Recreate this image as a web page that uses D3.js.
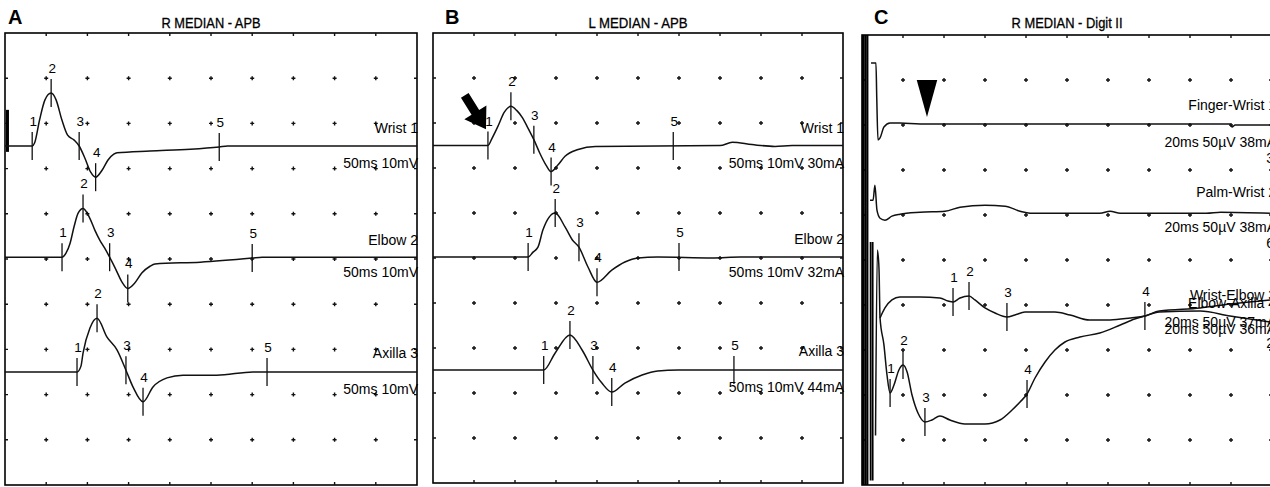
<!DOCTYPE html>
<html>
<head>
<meta charset="utf-8">
<title>Median nerve conduction</title>
<script src="https://d3js.org/d3.v7.min.js"></script>
<style>
body {margin:0; background:#fff;}
text {font-family: "Liberation Sans", Arial, sans-serif; fill:#000;}
.trace {fill:none; stroke:#111; stroke-width:1.5; stroke-linejoin:round;}
.mark {stroke:#111; stroke-width:1.3;}
.dot {stroke:#111; stroke-width:1.4; fill:none;}
.frame {fill:none; stroke:#000; stroke-width:1.6;}
</style>
</head>
<body>
<svg width="1270" height="487"></svg>
<script>
// ---- text ----
var letters = ["A", "B", "C"];
var titles = ["R MEDIAN - APB", "L MEDIAN - APB", "R MEDIAN - Digit II"];
var sweeps = [50, 50, 20];          // ms per sweep (10 div)
var sens = [10, 10, 50];            // mV or µV per div

// ---- panel A (ms, mV) ----
var aBase = [2.5, 4.96, 7.5];
var aNames = ["Wrist 1", "Elbow 2", "Axilla 3"];
var aSettings = ["50ms 10mV", "50ms 10mV", "50ms 10mV"];
var aWrist = [[0,0],[3.3,0],[3.6,0.7],[4.2,5.8],[4.85,10.2],[5.6,11.7],[6.2,10.2],[6.9,5.8],[7.6,2.4],[8.4,1.3],[9.0,0],[9.7,-2.7],[10.4,-5.8],[11.0,-6.9],[11.8,-5.3],[12.5,-3.1],[13.2,-1.8],[13.6,-1.5],[17.6,-1.1],[22.5,-0.7],[26,-0.2],[27,0],[50,0]];
var aWristMarks = [[3.3,0],[5.6,11.7],[9.0,0],[11.0,-6.9],[26,-0.2]];
var aElbow = [[0,0],[6.92,0],[7.4,0.9],[7.9,3.1],[8.4,6.9],[8.86,9.7],[9.47,10.8],[10.3,8.6],[10.9,6.0],[11.5,3.8],[12.1,2.0],[12.7,0],[13.5,-2.9],[14.2,-5.5],[14.9,-6.9],[15.7,-5.8],[16.6,-3.5],[17.6,-2.0],[18.2,-1.5],[23.7,-1.1],[30,-0.2],[31.2,0],[50,0]];
var aElbowMarks = [[6.92,0],[9.47,10.8],[12.7,0],[14.9,-6.9],[30,-0.2]];
var aAxilla = [[0,0],[8.74,0],[9.22,1.3],[9.47,4.2],[10.3,9.7],[11.17,11.9],[12.38,7.7],[13.59,4.9],[14.68,0.4],[15.53,-3.3],[16.75,-6.6],[17.96,-3.3],[19.66,-1.3],[21.6,-0.7],[25.7,-0.7],[30.1,0],[31.8,0],[50,0]];
var aAxillaMarks = [[8.74,0],[11.17,11.9],[14.68,0.4],[16.75,-6.6],[31.8,0]];
var aStim = [0.3, 8, -1.3];

// ---- panel B (ms, mV) ----
var bBase = [2.5, 4.98, 7.49];
var bNames = ["Wrist 1", "Elbow 2", "Axilla 3"];
var bSettings = ["50ms 10mV 30mA", "50ms 10mV 32mA", "50ms 10mV 44mA"];
var bWrist = [[0,0],[6.7,0],[7.2,1.6],[7.9,4.2],[8.7,7.4],[9.5,8.7],[10.2,7.8],[10.9,6.2],[11.6,3.8],[12.3,1.3],[13.0,-1.6],[13.8,-4.4],[14.4,-5.8],[15.2,-4.4],[16.1,-2.4],[17.7,-0.9],[19.8,-0.2],[35,0],[36.5,0.7],[38.9,0.2],[41.7,-0.2],[43.8,0],[50,0]];
var bWristMarks = [[6.7,0],[9.5,8.7],[12.3,1.3],[14.4,-5.8],[29.3,-0.1]];
var bElbow = [[0,0],[11.6,0],[12.2,1.1],[12.8,2.2],[13.4,6.0],[14.9,9.8],[16.1,6.7],[17.0,3.8],[17.8,2.2],[18.9,-2.2],[20.0,-5.6],[21.8,-2.9],[23.4,-1.1],[25.0,-0.2],[27.4,0],[34,-0.2],[37.5,0],[50,0]];
var bElbowMarks = [[11.6,0],[14.9,9.8],[17.8,2.2],[20.0,-5.6],[30,0]];
var bAxilla = [[0,0],[13.5,0],[14.9,3.8],[16.7,7.8],[18.2,4.4],[19.5,0],[20.6,-2.9],[21.8,-4.9],[23.4,-2.9],[25.5,-1.1],[27.4,-0.2],[29.9,0],[50,0]];
var bAxillaMarks = [[13.5,0],[16.7,7.8],[19.5,0],[21.8,-4.9],[36.7,0]];
var bArrow = [6.46, 3.6];            // tip: ms, mV above wrist baseline

// ---- panel C (ms, µV) ----
var cBase = [2, 3.96, 6, 6];
var cNames = ["Finger-Wrist 1", "Palm-Wrist 2", "Wrist-Elbow 3", "Elbow-Axilla 4"];
var cSettings = ["20ms 50\u00b5V 38mA", "20ms 50\u00b5V 38mA", "20ms 50\u00b5V 37mA", "20ms 50\u00b5V 36mA"];
var cExtra = ["3", "6", "2"];
var cFinger = [[0.44,68.9],[0.68,68.9],[0.72,30],[0.78,-16.7],[0.88,-14.4],[1.07,-2.2],[1.37,2.2],[1.85,2.2],[2.83,1.1],[6.73,1.1],[17.95,1.1],[18.05,-2.2],[18.2,0],[19.9,0]];
var cPalm = [[0.39,14.4],[0.54,14.4],[0.63,31.1],[0.73,3.3],[0.88,-5.6],[1.12,-7.8],[1.46,-3.3],[1.85,-1.1],[2.83,1.1],[4.05,2.2],[4.78,6.7],[6.0,8.9],[6.98,7.8],[7.71,2.2],[8.2,0],[11.6,0],[12.1,2.2],[12.6,0],[16.8,0],[17.5,1.1],[19.9,0]];
var cWristElbow = [[0.88,-14.4],[1.12,-3.3],[1.46,5.6],[1.85,8.9],[2.83,8.9],[3.8,7.8],[4.2,4.4],[4.44,3.3],[4.78,7.8],[5.22,10],[5.51,5.6],[6.0,-3.3],[6.49,-8.9],[7.07,-13.3],[7.46,-11.1],[7.95,-7.8],[9.41,-7.8],[10.15,-11.1],[11.1,-16.7],[12.1,-16.7],[13.1,-14.4],[13.8,-12.2],[14.5,-6.7],[16.5,-3.3],[17.95,1.1],[19.9,5.6]];
var cWristElbowMarks = [[4.44,3.3],[5.22,10],[7.07,-13.3],[13.8,-12.2]];
var cElbowAxilla = [[0.66,-145],[0.75,61],[0.83,40],[0.88,-14.4],[1.07,-44.4],[1.22,-77.8],[1.37,-97.8],[1.56,-88.9],[1.8,-72.2],[2.0,-66.7],[2.2,-74.4],[2.44,-100],[2.73,-120],[3.07,-130],[3.41,-127.8],[3.8,-123.3],[4.29,-127.8],[5.02,-132.2],[6.0,-132.2],[6.73,-127.8],[7.32,-116.7],[7.71,-107.8],[8.05,-98.9],[8.44,-81.1],[8.93,-63.3],[9.41,-50],[9.9,-41.1],[10.63,-35.6],[11.6,-31.1],[12.6,-22.2],[13.3,-15.6],[13.8,-12.2],[14.5,-7.8],[16.5,-6.7],[17.95,-12.2],[19.9,-18.9]];
var cElbowAxillaMarks = [[1.37,-97.8],[2.0,-66.7],[3.07,-130],[8.05,-98.9]];
var cArtifactFull = [0.05, 0.16, 0.26];
var cArtifactLow = [0.42, 0.52];
var cHead = [3.17, 50, 9, 0.5];      // ms, top µV, tip µV, half width ms

var svg = d3.select("svg");

var boxes = [
  {x0: 5, x1: 417, y0: 33, y1: 485, tw: 99},
  {x0: 433, x1: 843, y0: 33, y1: 483, tw: 99},
  {x0: 862, x1: 1272, y0: 35, y1: 485, tw: 111}
];

function makePanel(i) {
  var b = boxes[i];
  var x = d3.scaleLinear().domain([0, sweeps[i]]).range([b.x0, b.x1]);
  var y = d3.scaleLinear().domain([0, 10 * sens[i]]).range([b.y0, b.y1]);
  var g = svg.append("g");

  g.append("text").attr("x", b.x0 + (i == 0 ? 3 : 12)).attr("y", 24)
    .style("font-size", "20px").style("font-weight", "bold").text(letters[i]);
  g.append("text").attr("x", (b.x0 + b.x1) / 2).attr("y", 28)
    .attr("text-anchor", "middle").style("font-size", "14.5px")
    .attr("textLength", b.tw).attr("lengthAdjust", "spacingAndGlyphs")
    .style("stroke", "#000").style("stroke-width", 0.3)
    .text(titles[i]);

  g.append("rect").attr("class", "frame")
    .attr("x", b.x0).attr("y", b.y0).attr("width", b.x1 - b.x0).attr("height", b.y1 - b.y0);

  var cols = d3.range(1, 10).map(function(k) { return k * sweeps[i] / 10; });
  var rows = d3.range(1, 10).map(function(k) { return k * sens[i]; });
  var p = "";
  cols.forEach(function(c) {
    rows.forEach(function(r) {
      var cx = x(c), cy = y(r);
      p += "M" + (cx - 2) + "," + cy + "h4M" + cx + "," + (cy - 2) + "v4";
    });
    p += "M" + x(c) + "," + b.y0 + "v3M" + x(c) + "," + b.y1 + "v-3";
  });
  rows.forEach(function(r) {
    p += "M" + b.x0 + "," + y(r) + "h3M" + b.x1 + "," + y(r) + "h-3";
  });
  g.append("path").attr("class", "dot").attr("d", p);

  return {g: g, x: x, y: y};
}

function drawTrace(P, s, base, pts, marks) {
  var b0 = base * s;
  var line = d3.line()
    .x(function(d) { return P.x(d[0]); })
    .y(function(d) { return P.y(b0 - d[1]); })
    .curve(d3.curveMonotoneX);
  P.g.append("path").attr("class", "trace").attr("d", line(pts));
  if (!marks) return;
  P.g.selectAll(null).data(marks).enter().append("line").attr("class", "mark")
    .attr("x1", function(d) { return P.x(d[0]); })
    .attr("x2", function(d) { return P.x(d[0]); })
    .attr("y1", function(d) { return P.y(b0 - d[1]) - 14; })
    .attr("y2", function(d) { return P.y(b0 - d[1]) + 14; });
  P.g.selectAll(null).data(marks).enter().append("text")
    .attr("x", function(d) { return P.x(d[0]) + 1; })
    .attr("y", function(d) { return P.y(b0 - d[1]) - 20; })
    .attr("text-anchor", "middle").style("font-size", "13.5px")
    .text(function(d, k) { return k + 1; });
}

function drawLabels(P, s, bases, names, settings, xEnd, dyName, dySet) {
  names.forEach(function(n, k) {
    var yb = P.y(bases[k] * s);
    P.g.append("text").attr("x", xEnd).attr("y", yb + dyName[k])
      .attr("text-anchor", "end").style("font-size", "14px").text(n);
    P.g.append("text").attr("x", xEnd).attr("y", yb + dySet[k])
      .attr("text-anchor", "end").style("font-size", "14px").text(settings[k]);
  });
}

// ---- A ----
var A = makePanel(0);
A.g.append("line").attr("stroke", "#000").attr("stroke-width", 3)
  .attr("x1", A.x(aStim[0])).attr("x2", A.x(aStim[0]))
  .attr("y1", A.y(aBase[0] * 10 - aStim[1])).attr("y2", A.y(aBase[0] * 10 - aStim[2]));
drawTrace(A, 10, aBase[0], aWrist, aWristMarks);
drawTrace(A, 10, aBase[1], aElbow, aElbowMarks);
drawTrace(A, 10, aBase[2], aAxilla, aAxillaMarks);
drawLabels(A, 10, aBase, aNames, aSettings, 418, [-13, -12, -14], [22, 20, 22]);

// ---- B ----
var B = makePanel(1);
drawTrace(B, 10, bBase[0], bWrist, bWristMarks);
drawTrace(B, 10, bBase[1], bElbow, bElbowMarks);
drawTrace(B, 10, bBase[2], bAxilla, bAxillaMarks);
drawLabels(B, 10, bBase, bNames, bSettings, 844, [-13, -13, -14], [22, 20, 22]);
(function() {
  var tx = B.x(bArrow[0]), ty = B.y(bBase[0] * 10 - bArrow[1]);
  var ang = 58 * Math.PI / 180, L = 40, hl = 20, hw = 13, sw = 4.5;
  var ux = Math.cos(ang), uy = Math.sin(ang), nx = -uy, ny = ux;
  var bx = tx - ux * hl, by = ty - uy * hl, ex = tx - ux * L, ey = ty - uy * L;
  var pts = [[tx, ty], [bx + nx * hw, by + ny * hw], [bx + nx * sw, by + ny * sw],
    [ex + nx * sw, ey + ny * sw], [ex - nx * sw, ey - ny * sw],
    [bx - nx * sw, by - ny * sw], [bx - nx * hw, by - ny * hw]];
  B.g.append("polygon").attr("fill", "#000")
    .attr("points", pts.map(function(q) { return q.join(","); }).join(" "));
})();

// ---- C ----
var C = makePanel(2);
C.g.selectAll(null).data(cArtifactFull).enter().append("line")
  .attr("stroke", "#000").attr("stroke-width", 2.2)
  .attr("x1", function(d) { return C.x(d); }).attr("x2", function(d) { return C.x(d); })
  .attr("y1", C.y(0)).attr("y2", C.y(500));
C.g.selectAll(null).data(cArtifactLow).enter().append("line")
  .attr("stroke", "#000").attr("stroke-width", 1.8)
  .attr("x1", function(d) { return C.x(d); }).attr("x2", function(d) { return C.x(d); })
  .attr("y1", C.y(230)).attr("y2", C.y(495));
drawTrace(C, 50, cBase[0], cFinger, null);
drawTrace(C, 50, cBase[1], cPalm, null);
drawTrace(C, 50, cBase[2], cWristElbow, cWristElbowMarks);
drawTrace(C, 50, cBase[3], cElbowAxilla, cElbowAxillaMarks);
drawLabels(C, 50, cBase, cNames, cSettings, 1276, [-15, -16, -5, 3], [22, 19, 22, 29]);
[[0, 38], [1, 35], [2, 43]].forEach(function(e, k) {
  C.g.append("text").attr("x", 1274).attr("y", C.y(cBase[e[0]] * 50) + e[1])
    .attr("text-anchor", "end").style("font-size", "14px").text(cExtra[k]);
});
C.g.append("polygon").attr("fill", "#000").attr("points", [
  [C.x(cHead[0] - cHead[3]), C.y(cBase[0] * 50 - cHead[1])],
  [C.x(cHead[0] + cHead[3]), C.y(cBase[0] * 50 - cHead[1])],
  [C.x(cHead[0]), C.y(cBase[0] * 50 - cHead[2])]
].map(function(q) { return q.join(","); }).join(" "));
</script>
</body>
</html>
